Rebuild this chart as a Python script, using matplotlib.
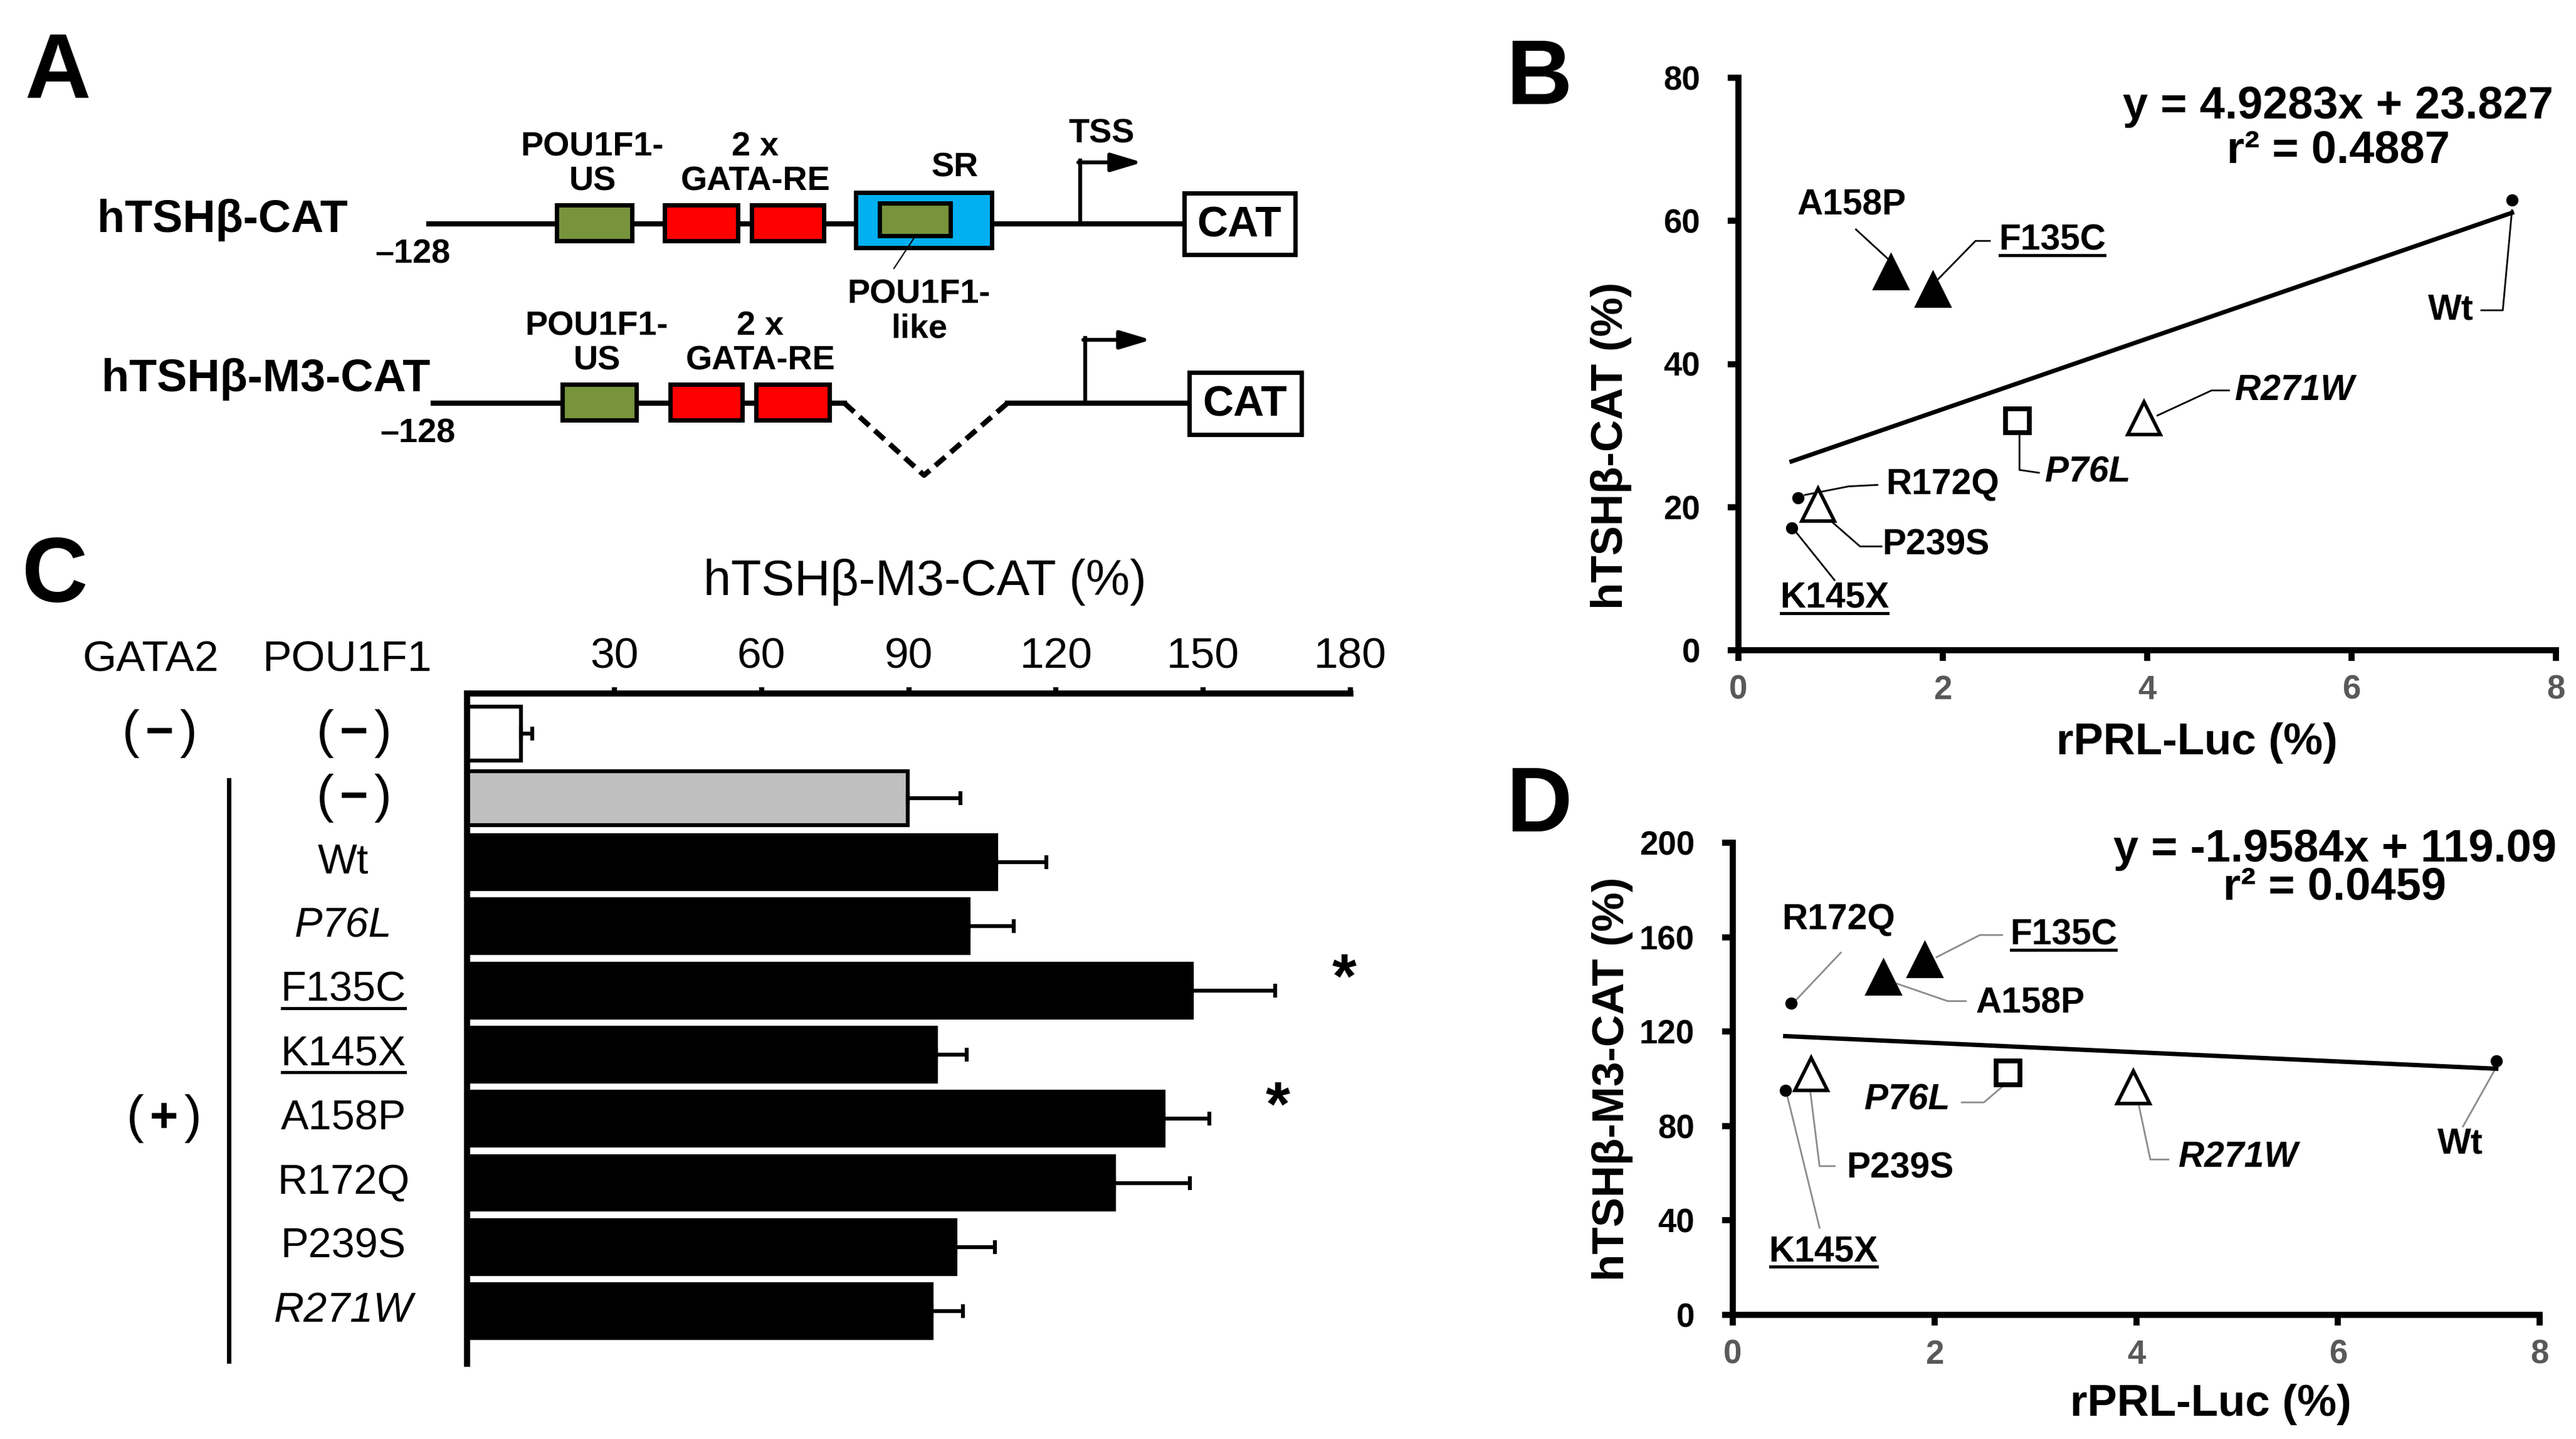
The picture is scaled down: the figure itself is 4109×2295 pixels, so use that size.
import matplotlib
matplotlib.use("Agg")
import matplotlib.pyplot as plt
import numpy as np
from matplotlib.patches import Rectangle
from matplotlib.lines import Line2D
from matplotlib.transforms import blended_transform_factory, offset_copy, IdentityTransform

plt.rcParams['font.family'] = ['Liberation Sans', 'DejaVu Sans']

# ---- panel C data (hTSHb-M3-CAT, %) ----
c_labels = ['(−)', '(−)', 'Wt', 'P76L', 'F135C', 'K145X', 'A158P', 'R172Q', 'P239S', 'R271W']
c_means = [11.0, 89.8, 107.8, 102.2, 147.7, 95.6, 141.9, 131.8, 99.5, 94.7]
c_err = [2.3, 10.8, 10.2, 9.2, 17.0, 6.2, 9.3, 15.5, 8.1, 6.3]
c_ticks = [30, 60, 90, 120, 150, 180]
c_signif = ['F135C', 'A158P']

# ---- panels B / D data ----
mutants = ['Wt', 'P76L', 'F135C', 'K145X', 'A158P', 'R172Q', 'P239S', 'R271W']
prl_luc = [7.57, 2.73, 1.90, 0.52, 1.49, 0.58, 0.78, 3.97]
tsh_cat = [62.9, 32.1, 50.5, 17.1, 52.9, 21.3, 20.3, 32.4]
tsh_m3_cat = [107.7, 102.5, 150.6, 95.0, 143.2, 132.0, 102.0, 96.5]
fit_b = (4.9283, 23.827, 0.4887)
fit_d = (-1.9584, 119.09, 0.0459)

italic_names = ['P76L', 'R271W']
underlined_names = ['F135C', 'K145X']

# marker look per mutant
mstyle = {
    'Wt': dict(marker='o', mfc='black', ms=13, mew=1),
    'R172Q': dict(marker='o', mfc='black', ms=13, mew=1),
    'K145X': dict(marker='o', mfc='black', ms=13, mew=1),
    'F135C': dict(marker='^', mfc='black', ms=40, mew=2),
    'A158P': dict(marker='^', mfc='black', ms=40, mew=2),
    'P239S': dict(marker='^', mfc='white', ms=38, mew=4),
    'R271W': dict(marker='^', mfc='white', ms=38, mew=4),
    'P76L': dict(marker='s', mfc='white', ms=27, mew=5.5),
}

# label position and leader path (data coords) per panel
b_notes = {
    'A158P': ((1.11, 62.2), [(1.15, 58.8), (1.47, 54.6)]),
    'F135C': ((3.07, 57.3), [(2.46, 57.2), (2.32, 57.2), (1.93, 51.5)]),
    'Wt': ((6.97, 47.5), [(7.27, 47.5), (7.48, 47.5), (7.57, 61.5)]),
    'R271W': ((5.44, 36.3), [(4.80, 36.3), (4.63, 36.3), (4.10, 32.8)]),
    'P76L': ((3.42, 24.8), [(2.75, 30.2), (2.75, 25.2), (2.94, 24.8)]),
    'R172Q': ((2.00, 23.1), [(0.65, 21.7), (1.08, 22.9), (1.36, 23.1)]),
    'P239S': ((1.93, 14.7), [(0.87, 18.5), (1.19, 14.5), (1.40, 14.5)]),
    'K145X': ((0.94, 7.3), [(0.53, 17.1), (0.94, 9.8)]),
}
d_notes = {
    'R172Q': ((1.05, 167.4), [(1.07, 153.4), (0.63, 133.5)]),
    'F135C': ((3.28, 160.9), [(2.67, 160.9), (2.45, 160.9), (2.02, 151.5)]),
    'A158P': ((2.95, 132.0), [(2.31, 132.9), (2.13, 132.9), (1.62, 140.4)]),
    'P76L': ((1.73, 91.0), [(2.27, 90.0), (2.49, 90.0), (2.67, 96.6)]),
    'P239S': ((1.66, 62.1), [(1.01, 63.0), (0.86, 63.0), (0.76, 97.5)]),
    'K145X': ((0.90, 26.7), [(0.86, 36.9), (0.54, 92.8)]),
    'R271W': ((5.01, 66.7), [(4.32, 65.8), (4.14, 65.8), (4.02, 90.0)]),
    'Wt': ((7.21, 72.3), [(7.24, 79.8), (7.57, 104.9)]),
}

W, H = 4109, 2295
fig = plt.figure(figsize=(W / 100, H / 100), dpi=100)
to_underline = []

# ---------- A: promoter schematic (figure pixel coords) ----------
ax_a = fig.add_axes([0, 0, 1, 1])
ax_a.set_xlim(0, W)
ax_a.set_ylim(H, 0)
ax_a.axis('off')

GREEN, RED, BLUE = '#77933c', '#ff0000', '#00b0f0'


def box(x0, x1, y0, y1, fc, lw=5):
    ax_a.add_patch(Rectangle((x0, y0), x1 - x0, y1 - y0, facecolor=fc,
                             edgecolor='black', linewidth=lw, zorder=3))


def tss_arrow(x, y0, y1, x1):
    ax_a.plot([x, x], [y0, y1 - 3], color='black', lw=4.5, zorder=2)
    ax_a.annotate('', xy=(x1, y1), xytext=(x - 3, y1),
                  arrowprops=dict(arrowstyle='-|>,head_length=1.0,head_width=0.3',
                                  mutation_scale=30, lw=4.5, color='black',
                                  shrinkA=0, shrinkB=0))


def a_text(x, y, s, size=39, **kw):
    ax_a.text(x, y, s, fontsize=size, fontweight='bold', ha='center', va='center',
              linespacing=1.15, **kw)


# row 1: hTSHb-CAT
ax_a.plot([684, 1889], [357, 357], color='black', lw=6, zorder=1)
box(888, 1008, 327, 384, GREEN)
box(1060, 1177, 327, 384, RED)
box(1199, 1314, 327, 384, RED)
box(1365, 1582, 307, 395, BLUE)
box(1403, 1516, 324, 376, GREEN)
box(1889, 2066, 308, 406, 'white')
tss_arrow(1723, 357, 259, 1822)
ax_a.plot([1459, 1426], [378, 428], color='black', lw=1.5, zorder=4)
ax_a.text(155, 351, 'hTSHβ-CAT', fontsize=52, fontweight='bold', ha='left', va='center')
a_text(658, 406, '–128')
a_text(945, 262, 'POU1F1-\nUS')
a_text(1205, 262, '2 x\nGATA-RE')
a_text(1523, 267, 'SR')
a_text(1757, 213, 'TSS')
a_text(1977, 359, 'CAT', size=49)
a_text(1466, 497, 'POU1F1-\nlike')

# row 2: hTSHb-M3-CAT
ax_a.plot([691, 1347], [643, 643], color='black', lw=6, zorder=1)
ax_a.plot([1347, 1474, 1607], [643, 758, 643], color='black', lw=6,
          linestyle=(0, (2.5, 1.4)), zorder=1)
ax_a.plot([1607, 1897], [643, 643], color='black', lw=6, zorder=1)
box(897, 1015, 613, 670, GREEN)
box(1069, 1184, 613, 670, RED)
box(1206, 1323, 613, 670, RED)
box(1897, 2076, 594, 693, 'white')
tss_arrow(1731, 643, 542, 1836)
ax_a.text(162, 605, 'hTSHβ-M3-CAT', fontsize=52, fontweight='bold', ha='left', va='center')
a_text(666, 692, '–128')
a_text(952, 548, 'POU1F1-\nUS')
a_text(1213, 548, '2 x\nGATA-RE')
a_text(1986, 645, 'CAT', size=49)

# panel letters
for letter, (x, y) in zip('ABCD', [(92, 118), (2455, 128), (88, 922), (2455, 1288)]):
    ax_a.text(x, y, letter, fontsize=105, fontweight='bold', ha='center', va='center')

# ---------- C: horizontal bars ----------
ax_c = fig.add_axes([745 / W, 1 - 2175 / H, 1409 / W, 1069 / H])
ypos = np.arange(len(c_means))
bar_colors = ['white', '#bfbfbf'] + ['black'] * (len(c_means) - 2)
ax_c.barh(ypos, c_means, height=0.84, color=bar_colors, edgecolor='black',
          linewidth=4.5, zorder=2)
ax_c.errorbar(c_means, ypos, xerr=[np.zeros(len(c_err)), c_err], fmt='none',
              ecolor='black', elinewidth=4.5, capsize=8, capthick=4.5, zorder=3)
ax_c.set_xlim(0, 180)
ax_c.set_ylim(len(c_means) - 1 + 0.82, -0.63)
ax_c.set_xticks(c_ticks)
ax_c.set_yticks([])
ax_c.xaxis.tick_top()
ax_c.tick_params(axis='x', direction='out', length=7, width=6, labelsize=50, pad=12)
for side in ('right', 'bottom'):
    ax_c.spines[side].set_visible(False)
for side in ('top', 'left'):
    ax_c.spines[side].set_linewidth(7)

for name in c_signif:
    i = c_labels.index(name)
    ax_c.text(c_means[i] + c_err[i] + 14, i - 0.15, '*', fontsize=72, fontweight='bold',
              ha='center', va='center', clip_on=False)

tr_c = blended_transform_factory(ax_c.transAxes, ax_c.transData)


def paren_sign(xf, y, sign):
    ax_c.text(xf, y, sign, transform=tr_c, ha='center', va='center', fontsize=56,
              fontweight='bold', clip_on=False)
    for ch, dx in (('(', -33), (')', 33)):
        ax_c.text(xf, y, ch, ha='center', va='center', fontsize=60, clip_on=False,
                  transform=offset_copy(tr_c, fig=fig, x=dx, y=0, units='points'))


ax_c.text(-0.358, 1.050, 'GATA2', transform=ax_c.transAxes, fontsize=50,
          ha='center', va='center')
ax_c.text(-0.136, 1.050, 'POU1F1', transform=ax_c.transAxes, fontsize=50,
          ha='center', va='center')
ax_c.text(0.518, 1.166, 'hTSHβ-M3-CAT (%)', transform=ax_c.transAxes, fontsize=57,
          ha='center', va='center')
paren_sign(-0.348, 0, '−')
paren_sign(-0.128, 0, '−')
paren_sign(-0.128, 1, '−')
paren_sign(-0.343, 6, '+')
ax_c.plot([-0.270, -0.270], [0.72, 9.78], transform=tr_c, color='black', lw=5,
          clip_on=False)
for i, name in enumerate(c_labels):
    if i < 2:
        continue
    t = ax_c.text(-0.14, i, name, transform=tr_c, fontsize=48, ha='center', va='center',
                  style='italic' if name in italic_names else 'normal')
    if name in underlined_names:
        to_underline.append(t)


# ---------- B and D: scatter with fit ----------
def scatter_panel(ax, yvals, fit, notes, ylim, yticks, eq_xy, r2_xy, lead_color, lead_lw):
    for name, x, y in zip(mutants, prl_luc, yvals):
        ax.plot([x], [y], linestyle='none', mec='black', zorder=4, **mstyle[name])
    slope, icpt, r2 = fit
    xs = np.array([min(prl_luc), max(prl_luc)])
    ax.plot(xs, slope * xs + icpt, color='black', lw=5, zorder=3)
    for name, (lxy, path) in notes.items():
        px, py = zip(*path)
        ax.plot(px, py, color=lead_color, lw=lead_lw, zorder=2)
        t = ax.text(lxy[0], lxy[1], name, fontsize=41, fontweight='bold',
                    ha='center', va='center',
                    style='italic' if name in italic_names else 'normal')
        if name in underlined_names:
            to_underline.append(t)
    sign = '+' if icpt >= 0 else '-'
    ax.text(*eq_xy, f'y = {slope:.4f}x {sign} {abs(icpt):g}',
            fontsize=52, fontweight='bold', ha='center', va='center')
    ax.text(*r2_xy, f'r² = {r2:.4f}', fontsize=52, fontweight='bold',
            ha='center', va='center')
    ax.set_xlim(0, 8)
    ax.set_ylim(*ylim)
    ax.set_xticks([0, 2, 4, 6, 8])
    ax.set_yticks(yticks)
    for side in ('right', 'top'):
        ax.spines[side].set_visible(False)
    for side in ('left', 'bottom'):
        ax.spines[side].set_linewidth(7)
    ax.tick_params(axis='both', direction='out', length=12, width=7)
    ax.tick_params(axis='x', labelsize=38, labelcolor='#595959', pad=16)
    ax.tick_params(axis='y', labelsize=38, pad=32)
    for lab in ax.get_xticklabels() + ax.get_yticklabels():
        lab.set_fontweight('bold')
    ax.patch.set_alpha(0)
    return ax


ax_b = fig.add_axes([2773 / W, 1 - 1037 / H, 1304 / W, 913 / H])
scatter_panel(ax_b, tsh_cat, fit_b, b_notes, (0, 80), [0, 20, 40, 60, 80],
              (5.87, 76.0), (5.87, 69.8), 'black', 2)
ax_b.text(-0.156, 0.357, 'hTSHβ-CAT (%)', transform=ax_b.transAxes, rotation=90,
          fontsize=51, fontweight='bold', ha='center', va='center')
ax_b.text(0.561, -0.162, 'rPRL-Luc (%)', transform=ax_b.transAxes,
          fontsize=51, fontweight='bold', ha='center', va='center')

ax_d = fig.add_axes([2764 / W, 1 - 2097 / H, 1287 / W, 753 / H])
scatter_panel(ax_d, tsh_m3_cat, fit_d, d_notes, (0, 200), [0, 40, 80, 120, 160, 200],
              (5.97, 197), (5.97, 181), '#8c8c8c', 2)
ax_d.text(-0.149, 0.50, 'hTSHβ-M3-CAT (%)', transform=ax_d.transAxes, rotation=90,
          fontsize=51, fontweight='bold', ha='center', va='center')
ax_d.text(0.592, -0.19, 'rPRL-Luc (%)', transform=ax_d.transAxes,
          fontsize=51, fontweight='bold', ha='center', va='center')

# underlines for the nonsense / key mutants
fig.canvas.draw()
renderer = fig.canvas.get_renderer()
for t in to_underline:
    bb = t.get_window_extent(renderer)
    yline = bb.y0 + 3
    fig.add_artist(Line2D([bb.x0 + 2, bb.x1 - 2], [yline, yline], transform=IdentityTransform(),
                          color='black', lw=3.5))

fig.savefig('out.png', dpi=100)
